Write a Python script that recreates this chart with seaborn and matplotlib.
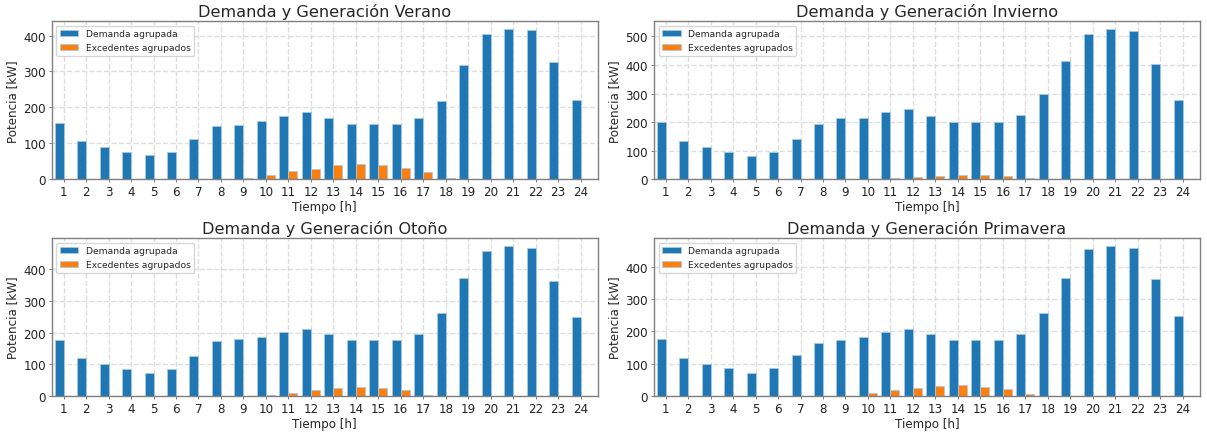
import pandas as pd
import numpy as np
import matplotlib
matplotlib.use("Agg")
import matplotlib.pyplot as plt
from matplotlib.ticker import MultipleLocator
import seaborn as sns

# Horas del dia
horas = list(range(1, 25))

# Demanda agrupada [kW] por estacion
demanda_verano = [157, 107, 91, 77, 67, 77, 113, 148, 152, 163, 176, 187,
                  170, 155, 155, 155, 170, 219, 318, 405, 419, 415, 325, 220]
demanda_invierno = [199, 133, 112, 96, 82, 96, 140, 192, 213, 215, 234, 246,
                    222, 201, 201, 201, 225, 300, 415, 510, 527, 520, 403, 276]
demanda_otono = [178, 121, 100, 87, 73, 87, 127, 174, 180, 186, 203, 213,
                 195, 176, 176, 178, 197, 262, 374, 459, 475, 468, 362, 249]
demanda_primavera = [177, 119, 100, 86, 73, 86, 127, 164, 172, 183, 197, 208,
                     191, 172, 174, 172, 191, 258, 364, 454, 465, 459, 362, 248]

# Excedentes agrupados [kW] por estacion
exced_verano = [0, 0, 0, 0, 0, 0, 0, 0, 2, 13, 23, 29,
                39, 42, 39, 31, 19, 2, 0, 0, 0, 0, 0, 0]
exced_invierno = [0, 0, 0, 0, 0, 0, 0, 0, 0, 0, 3, 7,
                  11, 15, 15, 10, 3, 0, 0, 0, 0, 0, 0, 0]
exced_otono = [0, 0, 0, 0, 0, 0, 0, 0, 0, 5, 10, 18,
               26, 29, 26, 21, 5, 0, 0, 0, 0, 0, 0, 0]
exced_primavera = [0, 0, 0, 0, 0, 0, 0, 0, 2, 10, 18, 25,
                   30, 33, 29, 21, 8, 0, 0, 0, 0, 0, 0, 0]

estaciones = ["Verano", "Invierno", "Otoño", "Primavera"]
demandas = [demanda_verano, demanda_invierno, demanda_otono, demanda_primavera]
excedentes = [exced_verano, exced_invierno, exced_otono, exced_primavera]

sns.set_style("whitegrid")
plt.rcParams["font.family"] = ["DejaVu Sans"]
plt.rcParams["grid.linestyle"] = "--"
plt.rcParams["grid.color"] = "#dddddd"
plt.rcParams["grid.linewidth"] = 1.0
plt.rcParams["axes.edgecolor"] = "#808080"
plt.rcParams["axes.linewidth"] = 1.0
plt.rcParams["xtick.bottom"] = True
plt.rcParams["ytick.left"] = True
plt.rcParams["xtick.color"] = "#808080"
plt.rcParams["ytick.color"] = "#808080"
plt.rcParams["xtick.labelcolor"] = "#222222"
plt.rcParams["ytick.labelcolor"] = "#222222"

fig, axes = plt.subplots(2, 2, figsize=(12.07, 4.35), dpi=100)
fig.subplots_adjust(left=0.043, right=0.994, top=0.949, bottom=0.087,
                    wspace=0.103, hspace=0.373)

for ax, est, dem, exc in zip(axes.flat, estaciones, demandas, excedentes):
    df = pd.DataFrame({
        "hora": horas * 2,
        "potencia": dem + exc,
        "serie": ["Demanda agrupada"] * 24 + ["Excedentes agrupados"] * 24,
    })
    sns.barplot(data=df, x="hora", y="potencia", hue="serie", ax=ax,
                palette=["#1f77b4", "#ff7f0e"], width=0.8,
                edgecolor="#a9c9e2", linewidth=0.6, saturation=1)
    ax.set_xlim(-0.52, 23.76)
    ax.yaxis.set_major_locator(MultipleLocator(100))
    ax.grid(True, axis="both")
    ax.set_title(f"Demanda y Generación {est}", fontsize=11.6, pad=3.6)
    ax.set_xlabel("Tiempo [h]", fontsize=8.6, labelpad=1.5)
    ax.set_ylabel("Potencia [kW]", fontsize=8.6, labelpad=3)
    ax.tick_params(axis="both", labelsize=8.6, length=2.3, width=0.7, pad=2)
    ax.legend(loc="upper left", fontsize=6.6, frameon=True)
    ax.set_axisbelow(True)

fig.savefig("out.png", dpi=100)
